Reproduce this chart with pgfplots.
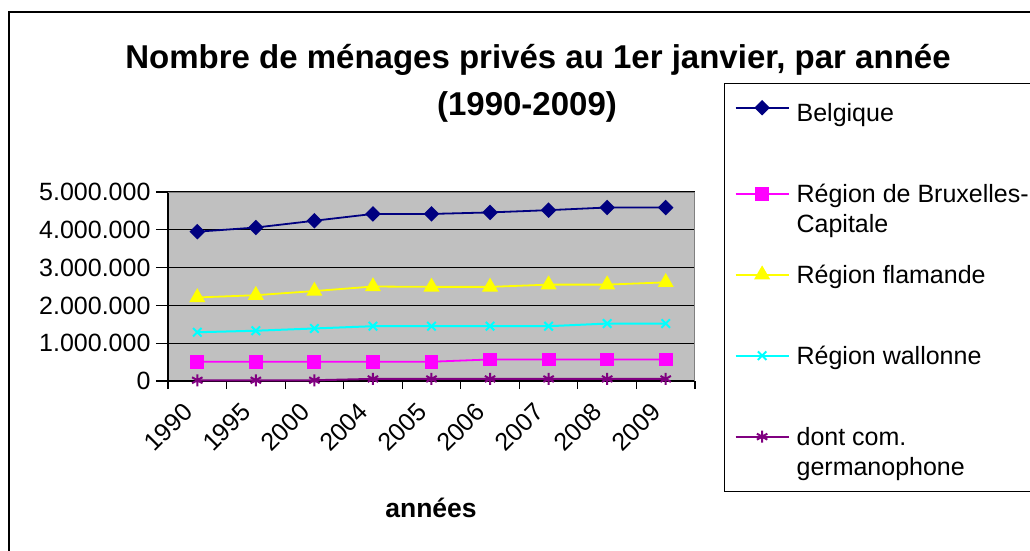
\documentclass[border=0pt]{standalone}
\usepackage{fontspec}
\setmainfont{Liberation Sans}
\usepackage{pgfplots}
\pgfplotsset{compat=1.18}
\definecolor{navyc}{RGB}{0,0,128}
\definecolor{magc}{RGB}{255,0,255}
\definecolor{yelc}{RGB}{255,255,0}
\definecolor{cyac}{RGB}{0,255,255}
\definecolor{purc}{RGB}{128,0,128}
\definecolor{plotbg}{RGB}{192,192,192}
\definecolor{bordergray}{RGB}{128,128,128}
\newcommand{\legtwo}[2]{\vtop{\hbox{#1\strut}\hbox{#2\strut}}}
\begin{document}
\begin{tikzpicture}
\useasboundingbox (0,0) rectangle (1030pt,-551pt);
\draw[line width=1.5pt] (9pt,-570pt) -- (9pt,-12pt) -- (1050pt,-12pt);
\begin{axis}[
  at={(168pt,-381pt)}, anchor=south west,
  width=527pt, height=189pt, scale only axis,
  xmin=0, xmax=9, ymin=0, ymax=5000000,
  axis background/.style={fill=plotbg},
  axis x line*=bottom, axis y line*=left,
  axis line style={black, line width=1.3pt, -},
  xtick={0.5,1.5,2.5,3.5,4.5,5.5,6.5,7.5,8.5},
  xticklabels={1990,1995,2000,2004,2005,2006,2007,2008,2009},
  minor xtick={0,1,2,3,4,5,6,7,8,9},
  major x tick style={draw=none},
  minor x tick style={black, line width=1.2pt},
  minor tick length=8pt,
  ytick={0,1000000,2000000,3000000,4000000,5000000},
  yticklabels={0,1.000.000,2.000.000,3.000.000,4.000.000,5.000.000},
  scaled y ticks=false,
  major tick length=12pt,
  y tick style={black, line width=1.2pt},
  tick align=outside,
  ymajorgrids, major grid style={black, line width=1.3pt},
  tick label style={font=\fontsize{25}{30}\selectfont},
  yticklabel style={xshift=-2pt},
  xticklabel style={xshift=-7pt, yshift=-12pt, rotate=45, anchor=east},
  legend cell align=left,
  legend image code/.code={%
    \pgfpathrectangle{\pgfpoint{0pt}{-18pt}}{\pgfpoint{53pt}{36pt}}\pgfusepath{use as bounding box}%
    \draw[mark repeat=2,mark phase=2] plot coordinates {(0pt,18pt) (26.5pt,18pt) (53pt,18pt)};},
  legend style={at={(axis description cs:1.0550,1.5767)}, anchor=north west,
    draw=black, line width=1.3pt, fill=white,
    font=\fontsize{25}{30}\selectfont,
    inner xsep=11pt, inner ysep=7pt, row sep=21pt, column sep=8pt,
    nodes={inner sep=0pt, text depth=, text height=}},
]
\addplot[navyc, line width=1.8pt, mark=square*, mark size=4.6pt, mark options={rotate=45, solid}]
  coordinates {(0.5,3950000) (1.5,4060000) (2.5,4240000) (3.5,4420000) (4.5,4420000) (5.5,4460000) (6.5,4520000) (7.5,4590000) (8.5,4590000)};
\addlegendentry{\legtwo{\rule{0pt}{31pt}Belgique}{}}
\addplot[magc, line width=1.8pt, mark=square*, mark size=6pt]
  coordinates {(0.5,510000) (1.5,510000) (2.5,510000) (3.5,510000) (4.5,510000) (5.5,570000) (6.5,570000) (7.5,570000) (8.5,570000)};
\addlegendentry{\legtwo{Région de Bruxelles-}{Capitale}}
\addplot[yelc, line width=1.8pt, mark=triangle*, mark size=7.5pt]
  coordinates {(0.5,2210000) (1.5,2270000) (2.5,2380000) (3.5,2500000) (4.5,2490000) (5.5,2490000) (6.5,2550000) (7.5,2550000) (8.5,2610000)};
\addlegendentry{\legtwo{Région flamande}{}}
\addplot[cyac, line width=2pt, mark=x, mark size=6pt]
  coordinates {(0.5,1290000) (1.5,1330000) (2.5,1390000) (3.5,1450000) (4.5,1450000) (5.5,1450000) (6.5,1450000) (7.5,1520000) (8.5,1520000)};
\addlegendentry{\legtwo{Région wallonne}{}}
\addplot[purc, line width=2pt, mark=asterisk, mark size=6pt]
  coordinates {(0.5,20000) (1.5,20000) (2.5,20000) (3.5,55000) (4.5,55000) (5.5,55000) (6.5,55000) (7.5,55000) (8.5,55000)};
\addlegendentry{\legtwo{dont com.}{germanophone}}
\draw[bordergray, line width=1.3pt] (rel axis cs:0,1) -- (rel axis cs:1,1) -- (rel axis cs:1,0);
\end{axis}
\node[font=\bfseries\fontsize{33}{40}\selectfont, anchor=base, inner sep=0pt]
  at (538pt,-69pt) {Nombre de ménages privés au 1er janvier, par année};
\node[font=\bfseries\fontsize{33}{40}\selectfont, anchor=base, inner sep=0pt]
  at (527pt,-115pt) {(1990-2009)};
\node[font=\bfseries\fontsize{26.5}{30}\selectfont, anchor=base, inner sep=0pt] at (431pt,-517pt) {années};
\end{tikzpicture}
\end{document}
